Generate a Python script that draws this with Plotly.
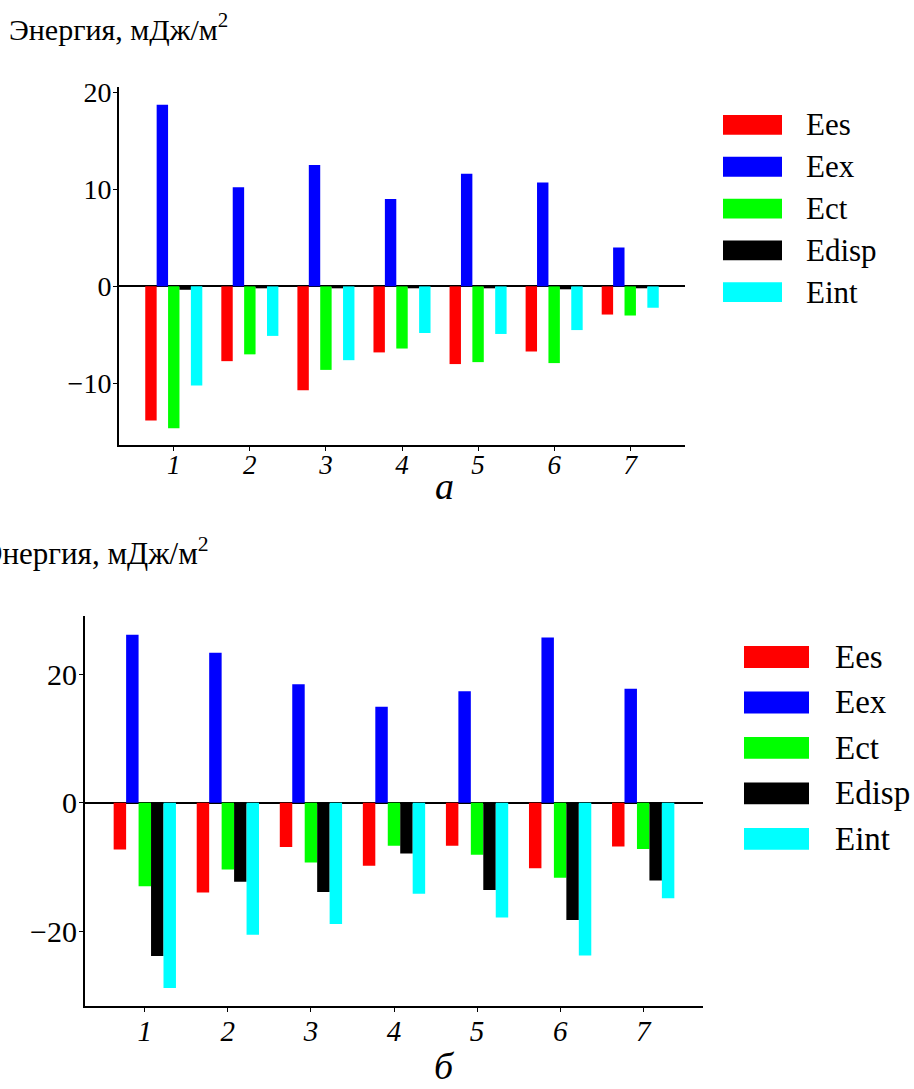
import plotly.graph_objects as go

# ---------------- data ----------------
categories = [1, 2, 3, 4, 5, 6, 7]
tick_labels = ["1", "2", "3", "4", "5", "6", "7"]
series_names = ["Ees", "Eex", "Ect", "Edisp", "Eint"]
series_colors = ["#FF0000", "#0000FF", "#00FF00", "#000000", "#00FFFF"]

# panel a
a_Ees = [-13.8, -7.7, -10.7, -6.8, -8.0, -6.7, -2.9]
a_Eex = [18.7, 10.2, 12.5, 9.0, 11.6, 10.7, 4.0]
a_Ect = [-14.6, -7.0, -8.6, -6.4, -7.8, -7.9, -3.0]
a_Edisp = [-0.35, -0.2, -0.2, -0.1, -0.2, -0.3, -0.1]
a_Eint = [-10.2, -5.1, -7.6, -4.8, -4.9, -4.5, -2.2]

# panel b
b_Ees = [-7.3, -14.0, -6.9, -9.8, -6.7, -10.2, -6.8]
b_Eex = [26.2, 23.4, 18.5, 15.0, 17.4, 25.8, 17.8]
b_Ect = [-13.0, -10.4, -9.3, -6.7, -8.1, -11.7, -7.2]
b_Edisp = [-23.9, -12.3, -13.9, -7.9, -13.6, -18.3, -12.1]
b_Eint = [-28.9, -20.6, -18.9, -14.2, -17.9, -23.8, -14.9]

a_ticks = [-10, 0, 10, 20]
b_ticks = [-20, 0, 20]

# ---------------- layout helpers ----------------
W, H = 914, 1089
FONT = "Liberation Serif"


def px(x):
    return x / W


def py(y):
    return 1 - y / H


fig = go.Figure()

a_sets = [a_Ees, a_Eex, a_Ect, a_Edisp, a_Eint]
b_sets = [b_Ees, b_Eex, b_Ect, b_Edisp, b_Eint]

for name, color, vals in zip(series_names, series_colors, a_sets):
    fig.add_trace(go.Bar(x=categories, y=vals, name=name, marker=dict(color=color, line=dict(width=0)),
                         xaxis="x", yaxis="y", showlegend=False))
for name, color, vals in zip(series_names, series_colors, b_sets):
    fig.add_trace(go.Bar(x=categories, y=vals, name=name, marker=dict(color=color, line=dict(width=0)),
                         xaxis="x2", yaxis="y2", showlegend=False))

italic_ticks = ["<i>%s</i>" % t for t in tick_labels]

common_x = dict(range=[0.28, 7.72], showgrid=False, zeroline=False, showline=True, linecolor="black",
                linewidth=2, ticks="outside", ticklen=4, tickcolor="black", tickwidth=1,
                tickvals=categories, ticktext=italic_ticks)
common_y = dict(showgrid=False, zeroline=True, zerolinecolor="black", zerolinewidth=2, showline=True,
                linecolor="black", linewidth=2, ticks="outside", ticklen=4, tickcolor="black", tickwidth=1,
                ticklabelstandoff=-4)

fig.update_layout(
    width=W, height=H,
    margin=dict(l=0, r=0, t=0, b=0),
    paper_bgcolor="white", plot_bgcolor="white",
    barmode="group", bargap=0.25, bargroupgap=0,
    font=dict(family=FONT, color="black"),
    xaxis=dict(domain=[px(119), px(685)], anchor="y", tickfont=dict(size=27, family=FONT),
               ticklabelstandoff=-9, **common_x),
    yaxis=dict(domain=[py(439), py(78)], anchor="x", range=[-16.33, 20.5], tickvals=a_ticks,
               tickfont=dict(size=28, family=FONT), **common_y),
    xaxis2=dict(domain=[px(85), px(703)], anchor="y2", tickfont=dict(size=29, family=FONT),
                ticklabelstandoff=-6, **common_x),
    yaxis2=dict(domain=[py(1005), py(612)], anchor="x2", range=[-31.66, 29.08], tickvals=b_ticks,
                tickfont=dict(size=30, family=FONT), **common_y),
)

shapes = []
annotations = []

# legends drawn as wide swatches
legend_specs = [
    dict(x0=723, x1=782, tx=804, y0=116, dy=42.2, hgt=20, size=31),
    dict(x0=744, x1=809, tx=833, y0=653, dy=45.9, hgt=22, size=33),
]
for spec in legend_specs:
    for i, (name, color) in enumerate(zip(series_names, series_colors)):
        cy = spec["y0"] + i * spec["dy"]
        shapes.append(dict(type="rect", xref="paper", yref="paper",
                           x0=px(spec["x0"]), x1=px(spec["x1"]),
                           y0=py(cy + spec["hgt"] / 2), y1=py(cy - spec["hgt"] / 2),
                           fillcolor=color, line=dict(width=0)))
        annotations.append(dict(text=name, xref="paper", yref="paper", x=px(spec["tx"]), y=py(cy),
                                xanchor="left", yanchor="middle", showarrow=False,
                                font=dict(size=spec["size"], family=FONT, color="black")))

# axis titles
annotations.append(dict(text="Энергия, мДж/м<sup>2</sup>", xref="paper", yref="paper", x=px(7), y=py(38),
                        xanchor="left", yanchor="bottom", showarrow=False,
                        font=dict(size=30, family=FONT, color="black")))
annotations.append(dict(text="Энергия, мДж/м<sup>2</sup>", xref="paper", yref="paper", x=px(-20), y=py(568),
                        xanchor="left", yanchor="bottom", showarrow=False,
                        font=dict(size=31, family=FONT, color="black")))

# panel labels
annotations.append(dict(text="<i>а</i>", xref="paper", yref="paper", x=px(444), y=py(480),
                        xanchor="center", yanchor="middle", showarrow=False,
                        font=dict(size=38, family=FONT, color="black")))
annotations.append(dict(text="<i>б</i>", xref="paper", yref="paper", x=px(444), y=py(1066),
                        xanchor="center", yanchor="middle", showarrow=False,
                        font=dict(size=38, family=FONT, color="black")))

fig.update_layout(shapes=shapes, annotations=annotations)

fig.write_html("out.html", config={"displayModeBar": False},
               post_script="document.body.style.margin='0';document.body.style.overflow='hidden';")
